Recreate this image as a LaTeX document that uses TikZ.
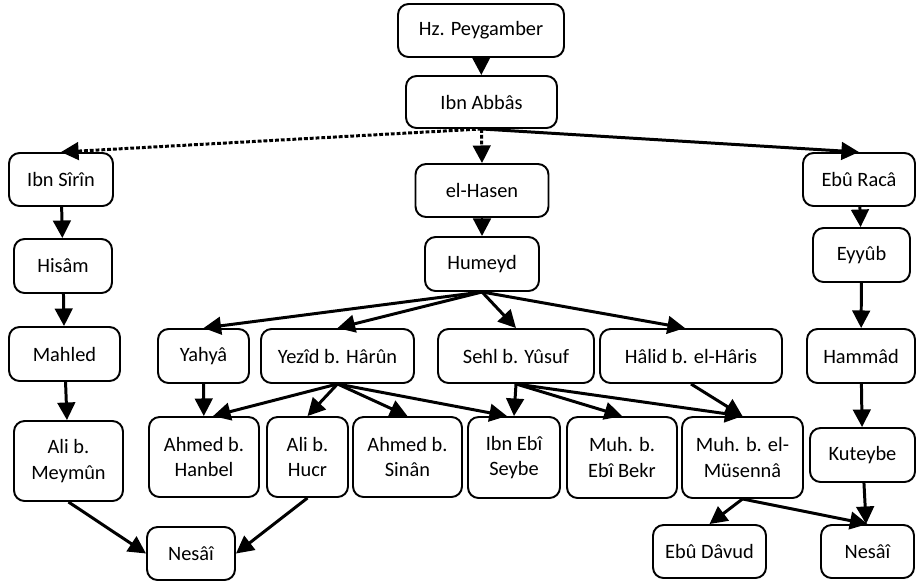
\documentclass[tikz,border=0pt]{standalone}
\usepackage{fontspec}
\setmainfont{Carlito}
\usetikzlibrary{arrows.meta}
\tikzset{
  kutu/.style={draw, line width=1.1pt, rounded corners=6pt, align=center,
    inner sep=1pt, font=\fontsize{11.6}{14.5}\selectfont},
  ok/.style={line width=1.7pt, -{Triangle[length=10pt,width=10pt]}},
  kesik/.style={ok, dash pattern=on 2.2pt off 1.1pt}
}
\begin{document}
\begin{tikzpicture}[x=0.02cm,y=-0.02cm]
   \useasboundingbox (0,0) rectangle (916,583);
   % ust kisim
   \node[kutu, minimum width=3.32cm, minimum height=1.06cm] (peyg) at (481,30.5) {Hz. Peygamber};
   \node[kutu, minimum width=3.02cm, minimum height=1.04cm] (abbas) at (481.5,102) {Ibn Abb\^as};
   % sol kol
   \node[kutu, minimum width=2.08cm, minimum height=1.06cm] (sirin) at (61,179.5) {Ibn S\^ir\^in};
   \node[kutu, minimum width=1.96cm, minimum height=1.08cm] (hisam) at (63,266) {His\^am};
   \node[kutu, minimum width=2.22cm, minimum height=1.08cm] (mahled) at (64.5,354) {Mahled};
   \node[kutu, minimum width=2.18cm, minimum height=1.60cm] (meymun) at (68.5,461) {Ali b.\\Meym\^un};
   \node[kutu, minimum width=1.76cm, minimum height=1.06cm] (nesaiA) at (191,553.5) {Nes\^a\^i};
   % orta kol
   \node[kutu, minimum width=2.66cm, minimum height=1.06cm] (hasen) at (482,190.5) {el-Hasen};
   \node[kutu, minimum width=2.28cm, minimum height=1.08cm] (humeyd) at (482,264) {Humeyd};
   \node[kutu, minimum width=1.82cm, minimum height=1.08cm] (yahya) at (203.5,356) {Yahy\^a};
   \node[kutu, minimum width=3.06cm, minimum height=1.08cm] (yezid) at (337.5,356) {Yez\^id b. H\^ar\^un};
   \node[kutu, minimum width=3.12cm, minimum height=1.08cm] (sehl) at (516,356) {Sehl b. Y\^usuf};
   \node[kutu, minimum width=3.64cm, minimum height=1.08cm] (halid) at (691,356) {H\^alid b. el-H\^aris};
   \node[kutu, minimum width=2.20cm, minimum height=1.60cm] (hanbel) at (204,457) {Ahmed b.\\Hanbel};
   \node[kutu, minimum width=1.62cm, minimum height=1.60cm] (hucr) at (307.5,457) {Ali b.\\Hucr};
   \node[kutu, minimum width=2.18cm, minimum height=1.60cm] (sinan) at (407.5,457) {Ahmed b.\\Sin\^an};
   \node[kutu, minimum width=1.84cm, minimum height=1.62cm] (seybe) at (514,457.5) {Ibn Eb\^i\\Seybe};
   \node[kutu, minimum width=2.20cm, minimum height=1.62cm] (bekr) at (622,457.5) {Muh. b.\\Eb\^i Bekr};
   \node[kutu, minimum width=2.42cm, minimum height=1.62cm] (musenna) at (742.5,457.5) {Muh. b. el-\\M\"usenn\^a};
   \node[kutu, minimum width=2.26cm, minimum height=1.06cm] (davud) at (709.5,551.5) {Eb\^u D\^avud};
   % sag kol
   \node[kutu, minimum width=2.24cm, minimum height=1.06cm] (raca) at (859,179.5) {Eb\^u Rac\^a};
   \node[kutu, minimum width=1.94cm, minimum height=1.08cm] (eyyub) at (861.5,255) {Eyy\^ub};
   \node[kutu, minimum width=2.16cm, minimum height=1.08cm] (hammad) at (861,356) {Hamm\^ad};
   \node[kutu, minimum width=2.10cm, minimum height=1.08cm] (kuteybe) at (862.5,455) {Kuteybe};
   \node[kutu, minimum width=1.86cm, minimum height=1.06cm] (nesaiB) at (867.5,551.5) {Nes\^a\^i};
   % oklar
   \draw[ok] (peyg) -- (abbas);
   \draw[kesik] (abbas.south) -- (sirin.north);
   \draw[kesik] (abbas.south) -- (hasen.north);
   \draw[ok] (abbas.south) -- (raca.north);
   \draw[ok] (sirin) -- (hisam);
   \draw[ok] (hisam) -- (mahled);
   \draw[ok] (mahled) -- (meymun);
   \draw[ok] (meymun.south) -- (nesaiA.west);
   \draw[ok] (hucr.south) -- (nesaiA.east);
   \draw[ok] (hasen) -- (humeyd);
   \draw[ok] (humeyd.south) -- (yahya.north);
   \draw[ok] (humeyd.south) -- (yezid.north);
   \draw[ok] (humeyd.south) -- (sehl.north);
   \draw[ok] (humeyd.south) -- ([xshift=-0.12cm]halid.north);
   \draw[ok] (yahya) -- (hanbel);
   \draw[ok] (yezid.south) -- ([xshift=0.18cm]hanbel.north);
   \draw[ok] (yezid.south) -- (hucr.north);
   \draw[ok] (yezid.south) -- (sinan.north);
   \draw[ok] (yezid.south) -- ([xshift=-0.14cm]seybe.north);
   \draw[ok] (sehl.south) -- (seybe.north);
   \draw[ok] (sehl.south) -- (bekr.north);
   \draw[ok] (sehl.south) -- (musenna.north);
   \draw[ok] (halid.south) -- (musenna.north);
   \draw[ok] (musenna.south) -- (davud.north);
   \draw[ok] (musenna.south) -- (nesaiB.north);
   \draw[ok] (raca) -- (eyyub);
   \draw[ok] (eyyub) -- (hammad);
   \draw[ok] (hammad) -- (kuteybe);
   \draw[ok] (kuteybe) -- (nesaiB);
\end{tikzpicture}
\end{document}
